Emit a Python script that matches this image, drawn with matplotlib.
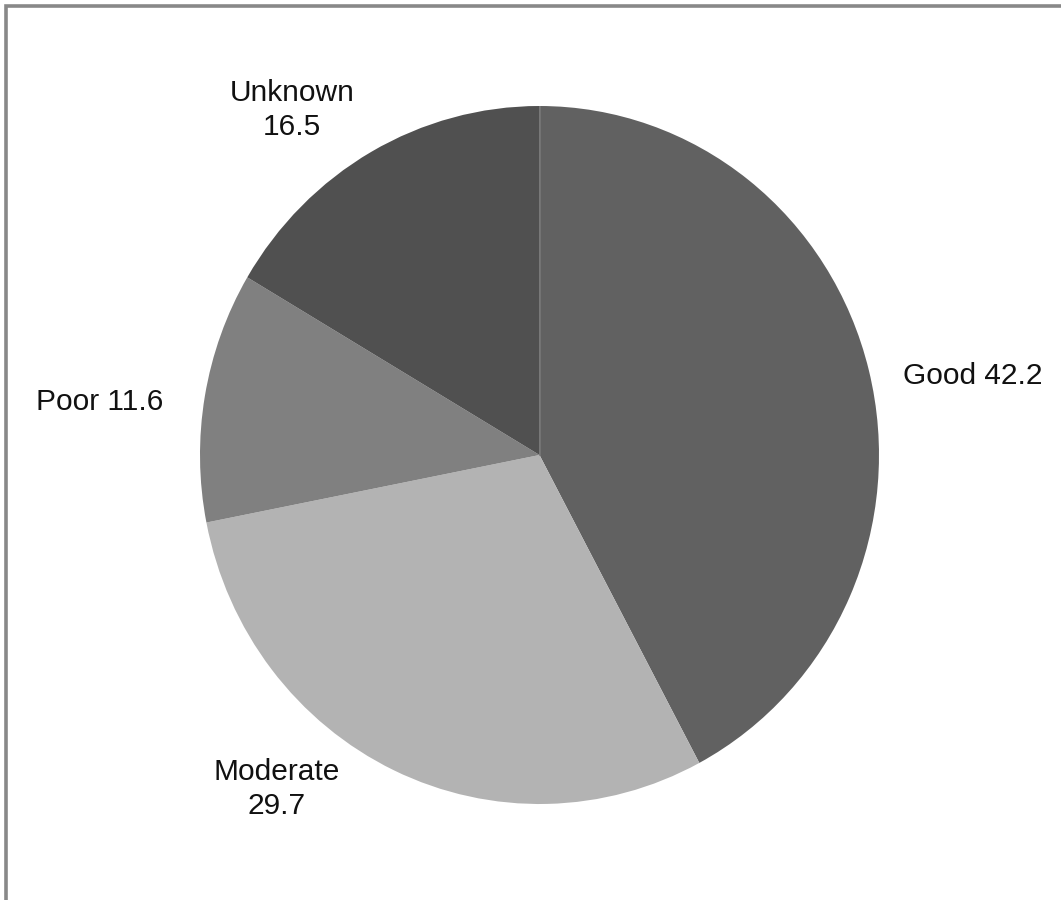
import matplotlib
matplotlib.use("Agg")
import matplotlib.pyplot as plt
from matplotlib.patches import Rectangle

# Condition categories and their shares (percent)
categories = ["Good", "Moderate", "Poor", "Unknown"]
values = [42.2, 29.7, 11.6, 16.5]
colors = ["#616161", "#b3b3b3", "#808080", "#505050"]

# Label layout (pixel coordinates, y measured from the top) and alignment
label_pos = [(903, 376), (277, 789), (163, 402), (292, 110)]
label_ha = ["left", "center", "right", "center"]
label_two_lines = [False, True, False, True]

W, H = 1061, 900
fig = plt.figure(figsize=(W / 100, H / 100), dpi=100)

# Background layer for frame and labels, in pixel units
bg = fig.add_axes([0, 0, 1, 1])
bg.set_xlim(0, W)
bg.set_ylim(0, H)
bg.axis("off")
bg.add_patch(Rectangle((5.5, -20), W + 40, H - 5.5 + 20, fill=False,
                       edgecolor="#888888", linewidth=2.6))

# Pie axes: centre (539.5, 455) px, radii 339.5 x 349 px
cx, cy, rx, ry = 539.5, 455, 339.5, 349
pa = fig.add_axes([(cx - rx) / W, (H - cy - ry) / H, 2 * rx / W, 2 * ry / H])
pa.pie(values, colors=colors, startangle=90, counterclock=False,
       radius=1, frame=True, wedgeprops=dict(linewidth=0))
pa.set_xlim(-1, 1)
pa.set_ylim(-1, 1)
pa.set_aspect("auto")
pa.axis("off")

# faint seam at the start of the first slice
pa.plot([0, 0], [0, 1], color="#777777", linewidth=1.2)

for name, val, (px, py), ha, two in zip(categories, values, label_pos,
                                        label_ha, label_two_lines):
    txt = f"{name}\n{val}" if two else f"{name} {val}"
    bg.text(px, H - py, txt, ha=ha, va="center", fontsize=21.5,
            family="Liberation Sans", color="#111111", linespacing=1.3)

fig.savefig("out.png", dpi=100)
